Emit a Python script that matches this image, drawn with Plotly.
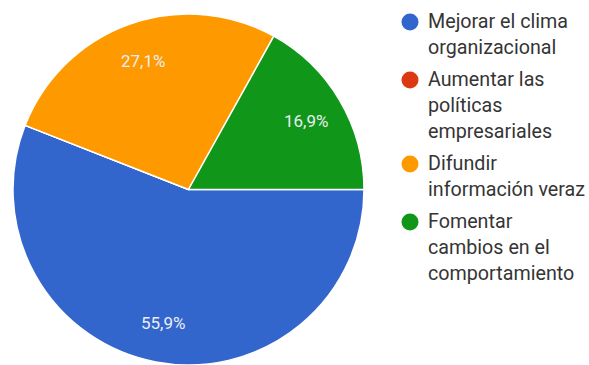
import math
import plotly.graph_objects as go

# Survey answer shares (percent)
categories = [
    "Mejorar el clima organizacional",
    "Aumentar las políticas empresariales",
    "Difundir información veraz",
    "Fomentar cambios en el comportamiento",
]
legend_lines = [
    ["Mejorar el clima", "organizacional"],
    ["Aumentar las", "políticas", "empresariales"],
    ["Difundir", "información veraz"],
    ["Fomentar", "cambios en el", "comportamiento"],
]
shares = [55.9, 0.0, 27.1, 16.9]
colors = ["#3366CC", "#DC3912", "#FF9900", "#109618"]

W, H = 589, 365
MARGIN_T = 14
pie_left, pie_right = 13, 364
cx_px = (pie_left + pie_right) / 2
radius_px = min(pie_right - pie_left, H - MARGIN_T) / 2
cy_px = MARGIN_T + radius_px
START_DEG = 90  # first slice begins at 3 o'clock, running clockwise
FONT = "Roboto, sans-serif"


def px_to_paper(x_px, y_px):
    return x_px / W, (H - y_px) / (H - MARGIN_T)


fig = go.Figure()
fig.add_trace(go.Pie(
    labels=categories,
    values=shares,
    marker=dict(colors=colors, line=dict(color="white", width=1.5)),
    sort=False,
    direction="clockwise",
    rotation=START_DEG,
    textinfo="none",
    hoverinfo="label+percent",
    showlegend=False,
    domain=dict(x=[pie_left / W, pie_right / W], y=[0, 1]),
))

# Percentage labels placed inside each slice along its bisector
total = sum(shares)
acc = 0.0
for v in shares:
    if v > 0:
        mid = START_DEG + (acc + v / 2) / total * 360
        r = radius_px * 0.775
        px, py = px_to_paper(cx_px + r * math.sin(math.radians(mid)),
                             cy_px - r * math.cos(math.radians(mid)))
        fig.add_annotation(
            x=px, y=py, xref="paper", yref="paper",
            text=f"{v:.1f}%".replace(".", ","), showarrow=False,
            font=dict(family=FONT, size=17, color="#E9EEF5"),
            xanchor="center", yanchor="middle",
        )
    acc += v

# Legend with round swatches, one text line per row
LEG_SWATCH_X = 410
LEG_TEXT_X = 426
LINE_H = 26
ITEM_GAP = 32
SWATCH_R = 8.5
y = 21
for lines, col in zip(legend_lines, colors):
    sx0, sy0 = px_to_paper(LEG_SWATCH_X - SWATCH_R, y - SWATCH_R + 1)
    sx1, sy1 = px_to_paper(LEG_SWATCH_X + SWATCH_R, y + SWATCH_R + 1)
    fig.add_shape(type="circle", xref="paper", yref="paper",
                  x0=sx0, x1=sx1, y0=sy1, y1=sy0,
                  fillcolor=col, line=dict(width=0))
    for i, line in enumerate(lines):
        tx, ty = px_to_paper(LEG_TEXT_X, y + i * LINE_H)
        fig.add_annotation(
            x=tx, y=ty, xref="paper", yref="paper", text=line,
            showarrow=False, xanchor="left", yanchor="middle",
            font=dict(family=FONT, size=19.7, color="#353535"),
        )
    y += (len(lines) - 1) * LINE_H + ITEM_GAP

fig.update_layout(
    width=W, height=H,
    margin=dict(l=0, r=0, t=MARGIN_T, b=0),
    paper_bgcolor="white", plot_bgcolor="white",
    showlegend=False,
)

fig.write_html("out.html")
